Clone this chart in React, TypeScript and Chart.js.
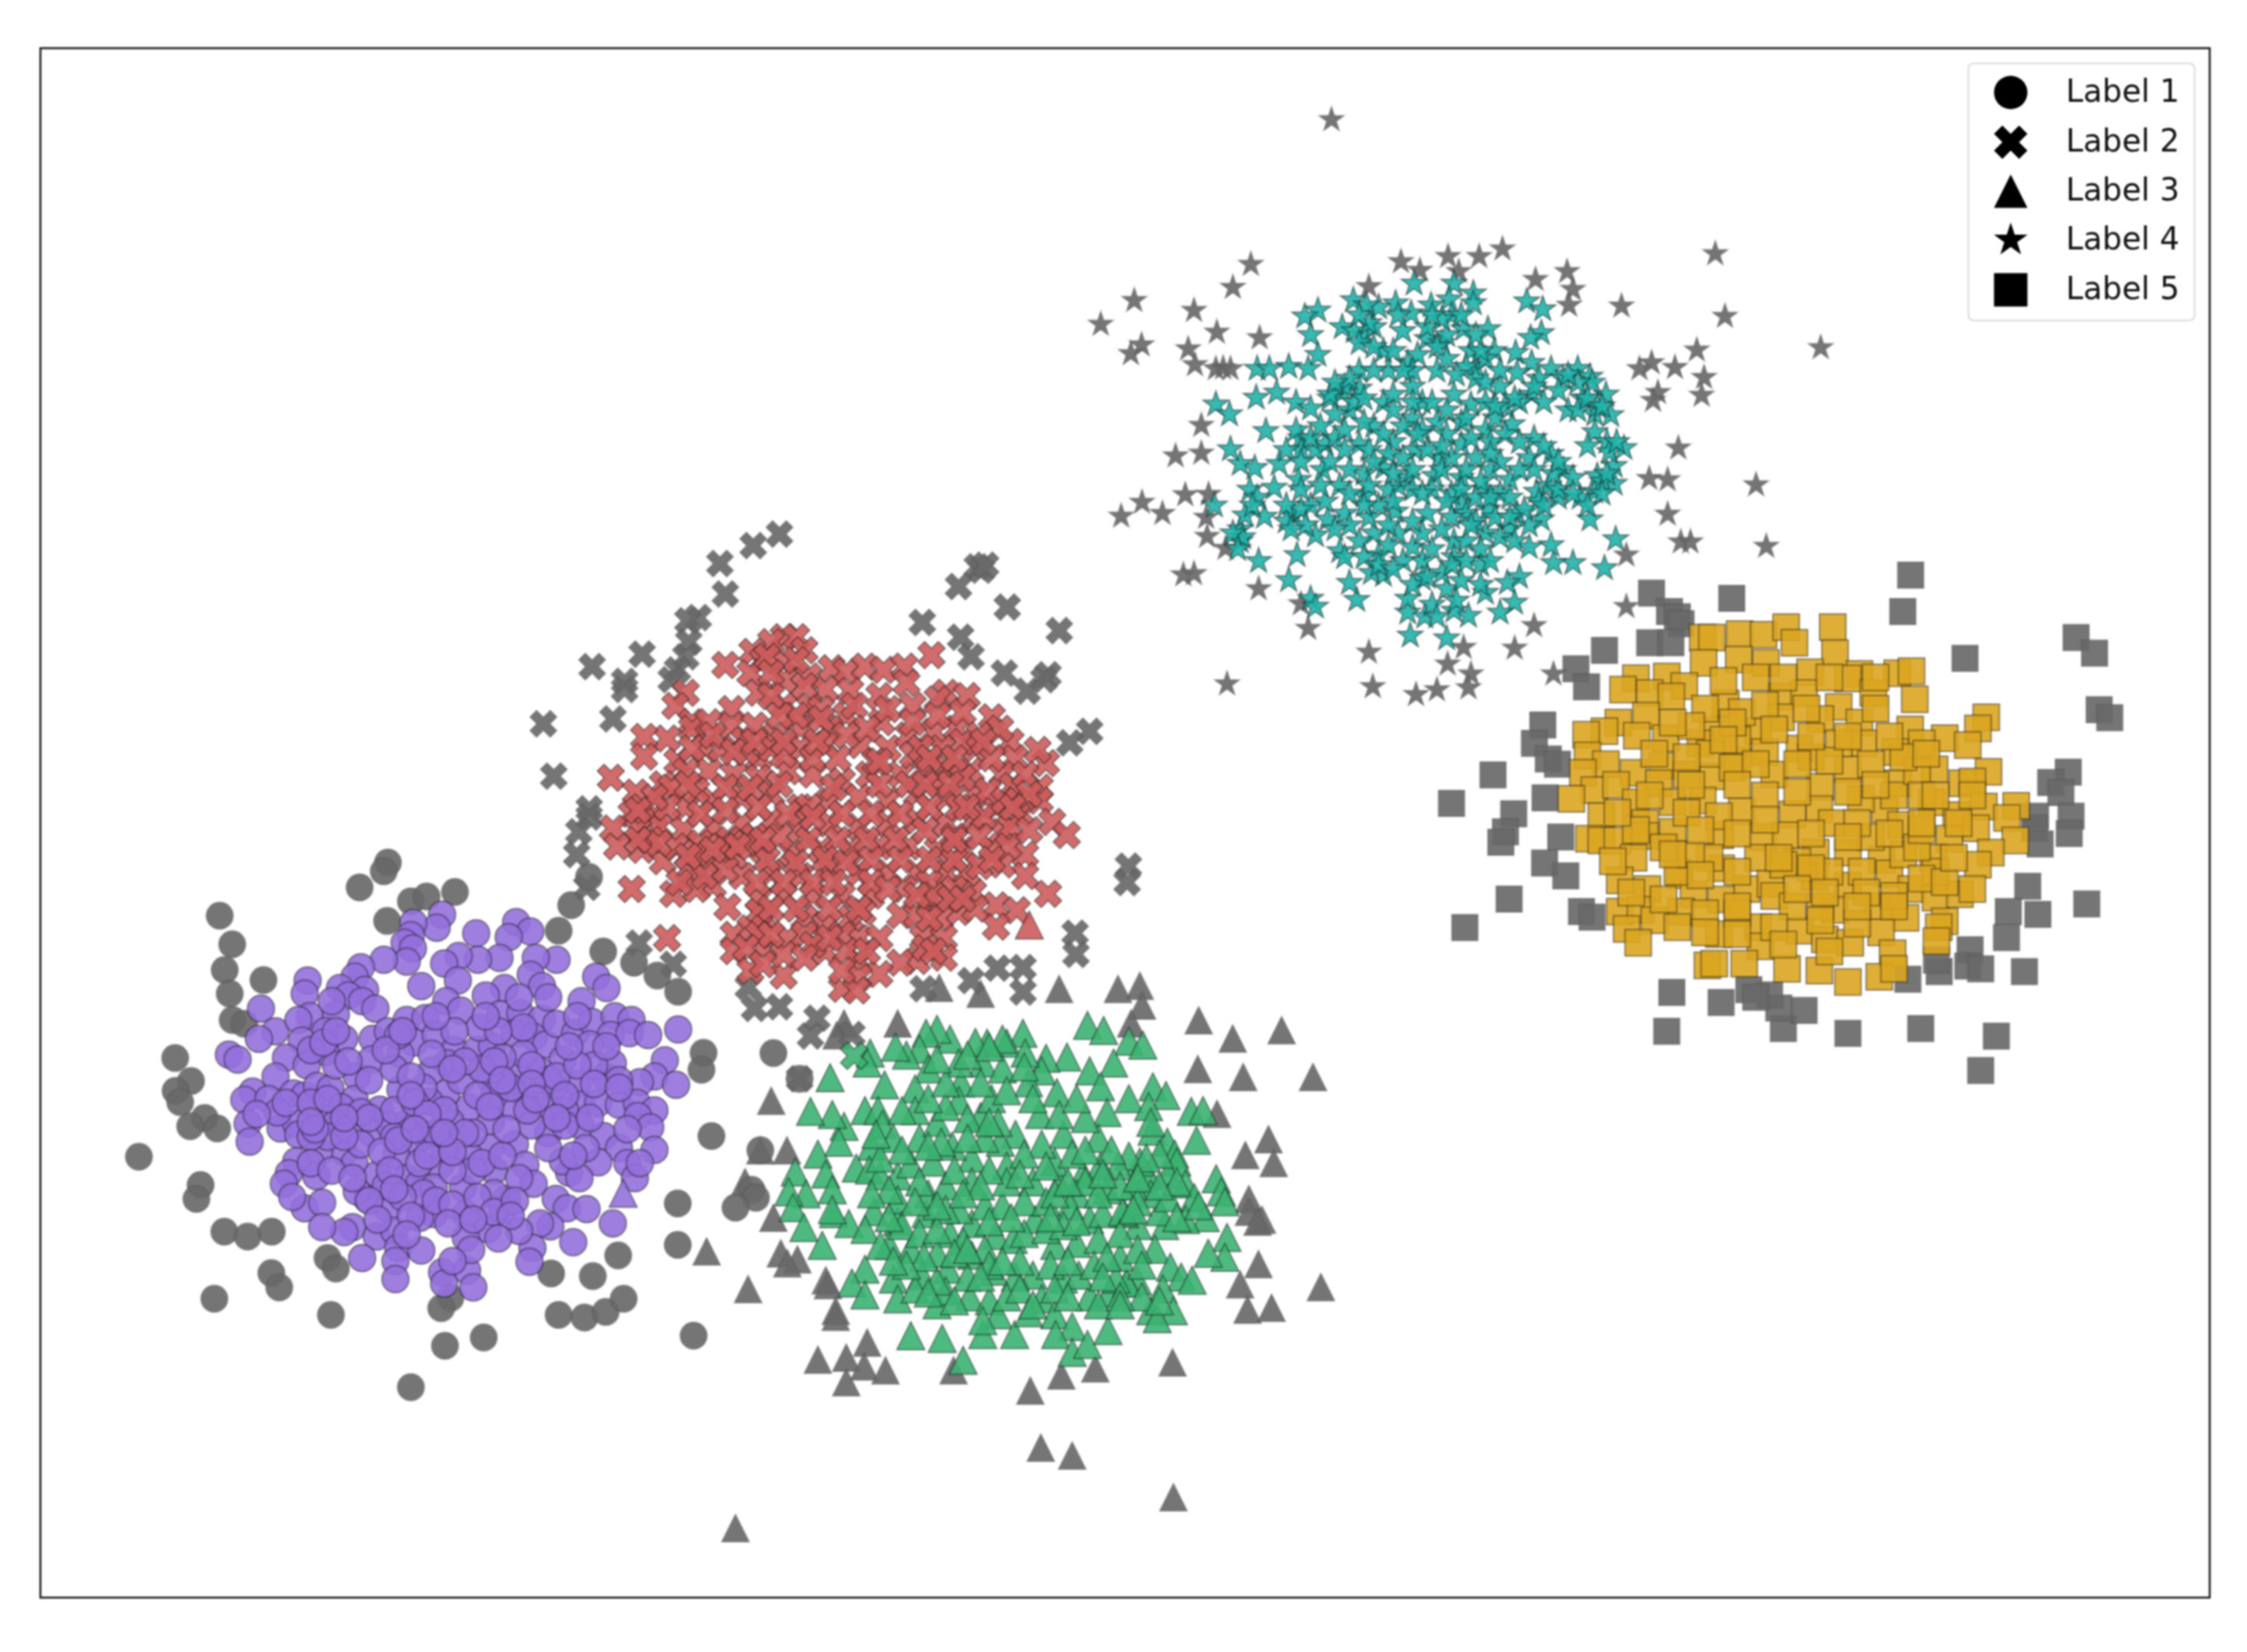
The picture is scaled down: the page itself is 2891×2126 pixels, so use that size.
import React, { useEffect, useRef } from "react";
import { Chart, registerables } from "chart.js";

Chart.register(...registerables);

type Pair = [number, number];

// Axis limits of the plot, in the reference's own coordinate units.
const xLimits = [52, 2843];
const yLimits = [62, 2056];
const seriesNames = ["Label 1", "Label 2", "Label 3", "Label 4", "Label 5"];

// Readings are grouped by the region they were read from; each region spans 0..1568 in both directions.
const regionCircles = { x: 100, y: 1080, w: 840, h: 760 };
const regionCrosses = { x: 660, y: 660, w: 840, h: 660 };
const regionTriangles = { x: 880, y: 1220, w: 880, h: 800 };
const regionStars = { x: 1380, y: 120, w: 980, h: 800 };
const regionSquares = { x: 1820, y: 720, w: 930, h: 700 };

const circleOutliers: Pair[] = [[745,62],[735,85],[677,128],[800,165],[838,152],[906,140],[743,217],[341,203],[371,279],[353,347],[365,410],[446,374],[372,480],[400,490],[234,581],[272,642],[235,668],[246,698],[305,740],[270,762],[335,768],[147,843],[295,918],[285,955],[352,1042],[408,1055],[466,1042],[600,1112],[620,1140],[465,1152],[484,1190],[328,1220],[608,1263],[895,1218],[873,1245],[882,1345],[975,1323],[800,1455],[1137,1153],[1237,1160],[1298,1105],[1155,1263],[1217,1270],[1268,1255],[1311,1220],[1479,1318],[1441,1077],[1441,967],[1522,788],[1503,567],[1498,612],[1155,243],[1262,298],[1336,328],[1392,362],[1442,405],[1185,175],[1228,100]];
const circleOutliersEast: Pair[] = [[205,265],[175,510],[155,610],[165,630],[118,655],[265,330]];
const circleCluster: Pair[] = [[875,200],[862,235],[806,222],[800,255],[785,275],[805,290],[790,325],[735,320],[957,250],[1053,220],[1087,245],[1035,260],[1150,320],[1100,315],[1013,315],[961,320],[915,310],[880,330],[913,375],[825,390],[1088,360],[1115,390],[1025,395],[980,415],[1245,365],[1270,395],[1210,430],[885,430],[920,455],[552,375],[545,410],[680,340],[665,365],[630,395],[690,400],[650,415],[683,430],[715,450],[440,450],[475,510],[435,530],[558,470],[530,480],[620,465],[595,510],[640,530],[538,535],[595,565],[500,580],[363,572],[384,585],[550,600],[475,630],[420,670],[400,692],[458,690],[518,675],[545,680],[575,655],[607,662],[670,630],[708,530],[705,585],[745,510],[790,480],[835,475],[808,540],[775,570],[860,520],[905,560],[887,595],[850,615],[958,560],[995,550],[965,500],[1015,465],[1063,462],[1115,477],[1050,515],[1095,525],[1125,545],[1150,490],[1195,515],[1235,485],[1290,470],[1330,480],[1280,520],[1325,515],[1370,520],[1442,505],[1230,545],[1165,585],[1110,615],[1050,620],[988,635],[1410,587],[1385,630],[1437,652],[1350,645],[1267,630],[1285,595],[1200,650],[1145,657],[1075,680],[1045,710],[1000,680],[940,712],[885,675],[845,697],[775,665],[725,718],[665,690],[633,712],[590,740],[620,755],[408,755],[487,768],[525,755],[413,803],[530,785],[705,780],[750,760],[795,750],[835,787],[810,805],[895,750],[993,748],[1128,718],[1210,705],[1250,700],[1300,705],[1343,700],[1385,720],[1345,735],[1375,765],[1207,760],[1130,780],[1263,788],[1300,820],[1385,825],[1050,810],[990,820],[940,840],[870,865],[765,840],[640,830],[665,860],[580,830],[525,855],[507,887],[495,915],[573,895],[720,890],[790,900],[820,915],[925,925],[855,925],[1030,955],[1075,865],[1095,915],[1180,885],[1165,855],[1250,858],[1320,860],[1338,900],[1205,900],[1148,955],[1175,980],[1222,982],[1285,1020],[1135,1028],[1110,1020],[1190,1070],[1092,1085],[1085,1122],[985,1035],[1060,1040],[1020,985],[932,995],[855,995],[822,1005],[695,955],[670,935],[745,980],[545,980],[587,965],[515,950],[660,1030],[640,1043],[587,1030],[718,1055],[760,1040],[770,1085],[825,1092],[683,1112],[763,1120],[763,1168],[875,1150],[935,1145],[932,1058],[950,1190],[945,1090],[880,1180],[900,1120],[600,790],[560,790],[480,725],[430,730],[650,770],[760,790],[950,780],[1090,760],[1170,720],[1240,600],[1130,640],[1070,570],[1020,580],[830,660],[920,640],[970,610],[680,810],[730,830],[880,820],[1000,880],[950,880],[1060,900],[820,860],[900,880],[830,940],[1000,940],[740,920],[780,950]];
const circleClusterInner: Pair[] = [[560,560],[620,600],[650,590],[700,640],[760,610],[800,630],[930,590],[1000,590],[1090,600],[1150,630],[1200,600],[1300,640],[1180,550],[1070,500],[1010,510],[905,510],[850,570],[770,520],[740,560],[500,700],[560,700],[680,725],[760,720],[810,700],[880,720],[960,680],[1040,660],[1090,650],[1170,680],[1240,650],[1300,660],[570,770],[640,790],[700,740],[770,800],[860,780],[930,780],[990,710],[1080,720],[1170,760],[1230,740],[1320,770],[560,860],[610,880],[660,900],[750,880],[840,840],[900,830],[970,860],[1020,840],[1130,820],[1220,820],[1350,860],[1190,840],[700,960],[760,930],[860,960],[900,970],[960,950],[1000,990],[1050,960],[800,1000],[720,1010],[890,1020],[1040,1000],[950,1010],[790,1050],[1010,1060],[840,730],[800,680],[900,610],[1020,640],[1100,690],[1150,740],[810,770],[880,780],[1030,770],[600,690],[640,740],[560,750],[1270,550],[1200,470],[1130,420],[1060,420],[980,470],[860,470],[780,510],[590,540],[610,430],[620,510]];
const strayTriangleInCircles: Pair[] = [[1310,940]];

const crossOutliers: Pair[] = [[640,65],[577,100],[497,155],[510,248],[445,320],[420,330],[422,395],[415,440],[395,480],[380,510],[310,432],[190,470],[268,515],[268,540],[240,630],[73,645],[98,805],[183,905],[183,930],[158,975],[153,1045],[177,1145],[1115,165],[1125,175],[1135,160],[1070,225],[1187,288],[983,335],[1075,380],[1100,440],[1312,360],[1180,490],[1235,545],[1285,495],[1275,510],[1385,668],[1337,703],[1478,1080],[1475,1130],[303,1315],[385,1380],[1350,1285],[1352,1350],[1163,1392],[1225,1390],[1225,1465],[1100,1430],[580,1515],[640,1510],[565,1450],[985,1455],[730,1545]];
const crossOutliersSouth: Pair[] = [[290,222],[385,218],[265,330]];
const crossCluster: Pair[] = [[650,380],[620,395],[680,380],[700,420],[575,425],[510,465],[600,450],[650,455],[570,490],[650,510],[590,550],[710,500],[765,475],[800,485],[845,470],[890,480],[940,470],[1005,435],[945,520],[880,560],[750,540],[810,545],[710,590],[650,590],[525,600],[415,550],[390,590],[430,640],[1040,550],[1090,560],[1020,570],[960,590],[1150,625],[1065,660],[1010,670],[885,640],[800,620],[760,660],[690,660],[630,680],[525,650],[555,695],[430,660],[370,690],[315,685],[315,745],[395,760],[460,720],[590,750],[690,720],[750,710],[835,710],[900,720],[950,680],[1110,720],[1195,700],[1205,750],[1280,765],[1260,725],[1100,790],[1040,780],[990,790],[930,800],[855,800],[790,820],[720,800],[660,790],[590,810],[530,800],[470,790],[415,790],[235,810],[295,855],[360,830],[1175,800],[1265,840],[1265,880],[1200,835],[285,920],[240,965],[340,925],[415,900],[480,880],[550,870],[620,860],[690,900],[760,880],[830,870],[900,880],[970,860],[1040,870],[1110,860],[1160,900],[1220,920],[1295,945],[1330,985],[1175,975],[1105,940],[1040,950],[970,940],[900,950],[830,960],[760,950],[690,970],[620,940],[550,950],[480,960],[410,970],[350,960],[300,970],[250,1020],[310,1030],[360,1065],[420,1090],[470,1070],[530,1050],[600,1030],[670,1040],[740,1030],[810,1030],[880,1020],[950,1020],[1020,1030],[1080,1030],[1150,1030],[1230,1045],[1230,1110],[1175,1075],[1285,1165],[1105,1160],[1040,1100],[970,1100],[900,1100],[830,1100],[760,1090],[690,1110],[620,1100],[550,1110],[480,1140],[440,1150],[385,1165],[285,1150],[515,1205],[590,1180],[650,1170],[720,1170],[790,1170],[860,1170],[930,1230],[1000,1180],[1070,1220],[1160,1200],[1210,1215],[1160,1265],[1025,1240],[530,1290],[530,1340],[605,1240],[600,1330],[660,1300],[750,1260],[810,1240],[750,1340],[830,1300],[880,1300],[985,1300],[1035,1300],[1035,1360],[970,1370],[930,1375],[830,1370],[880,1410],[830,1420],[790,1455],[825,1460],[570,1400],[650,1415],[370,1300],[700,1240],[450,1010],[520,1000],[580,990],[640,990],[710,1000],[780,1000],[850,1000],[920,1000],[990,970],[1060,990],[1090,1100],[1000,1130],[1110,1210]];
const crossClusterInner: Pair[] = [[430,720],[500,720],[560,730],[620,720],[650,740],[720,750],[780,750],[870,760],[960,740],[1030,720],[1080,700],[1150,750],[1230,800],[380,840],[440,850],[510,840],[570,840],[640,830],[710,900],[770,840],[880,830],[950,830],[1020,820],[1080,810],[1140,850],[1210,880],[310,900],[370,900],[450,920],[510,910],[590,900],[660,920],[720,930],[790,920],[860,920],[930,920],[1000,900],[1070,900],[1130,930],[1195,960],[330,1000],[390,1020],[440,1040],[500,1020],[560,1010],[610,1060],[680,1070],[750,1060],[800,1070],[860,1060],[930,1060],[1000,1060],[1060,1060],[1120,1080],[1190,1020],[400,1130],[460,1110],[510,1090],[585,1130],[650,1130],[720,1130],[770,1130],[860,1130],[940,1150],[1010,1170],[1060,1150],[590,1220],[620,1210],[680,1210],[760,1210],[840,1220],[970,1230],[570,1270],[590,1290],[700,1290],[790,1290],[650,1350],[720,1320],[800,1340],[610,440],[680,450],[620,490],[700,530],[620,560],[680,620],[740,600],[820,590],[900,600],[960,640],[1020,620],[1080,610],[1120,680],[1170,660],[470,640],[580,650],[480,680],[530,730],[640,620],[740,630],[850,660],[980,720],[880,760],[1000,750],[1060,750],[1130,700],[1050,830],[990,830],[730,700],[800,680],[650,700],[580,700],[420,830],[340,870],[300,910],[350,1010],[300,1000],[420,1050],[480,1030],[540,1020],[600,1000],[1060,1000],[1120,990],[1090,900],[1180,880],[1240,860],[1200,900],[1240,970],[1150,1060],[1000,1240],[1050,1180],[1080,1180],[900,1150],[970,1170],[830,1210],[760,1300],[990,1330],[1010,1340],[850,1340],[790,1400],[700,1360],[620,1290],[560,1330],[600,1380]];
const strayTriangleInCrosses: Pair[] = [[1240,1260]];

const triangleOutliers: Pair[] = [[1045,95],[995,103],[1050,145],[860,103],[680,115],[585,100],[490,190],[1180,182],[1258,228],[1370,207],[1025,190],[1178,305],[1282,325],[1442,325],[1222,418],[1340,482],[1287,522],[1352,542],[1295,633],[1325,685],[1295,665],[1315,690],[367,190],[350,220],[200,385],[175,510],[236,510],[140,590],[205,680],[52,765],[222,770],[260,785],[237,795],[147,860],[325,838],[330,850],[348,915],[348,930],[1317,797],[1275,848],[1460,855],[1292,912],[1347,907],[420,995],[307,1038],[372,1033],[413,1055],[462,1065],[372,1095],[618,1065],[865,1078],[943,1060],[1120,1045],[794,1116],[818,1260],[890,1280],[1122,1385],[118,1463]];
const triangleCluster: Pair[] = [[925,195],[962,208],[1020,235],[1052,245],[985,290],[878,275],[830,278],[820,310],[777,215],[740,240],[730,230],[695,240],[668,238],[610,230],[580,205],[555,215],[540,255],[510,270],[485,250],[427,265],[420,290],[560,305],[685,290],[730,305],[782,265],[930,310],[955,350],[1020,380],[1075,350],[1105,372],[1065,400],[1163,412],[1190,410],[1073,462],[1175,485],[1108,490],[1125,520],[1130,540],[1220,582],[1232,615],[1150,595],[1170,630],[1195,680],[1150,685],[1102,700],[1090,665],[1245,730],[1240,780],[1202,770],[1080,760],[1115,805],[1140,830],[1165,838],[1098,860],[1122,915],[1070,915],[1085,935],[1040,840],[1015,845],[1040,700],[1010,670],[1065,575],[1045,540],[1020,525],[995,550],[955,550],[915,570],[860,595],[900,620],[970,415],[950,480],[920,430],[870,470],[855,365],[790,340],[815,420],[760,470],[725,490],[680,425],[705,380],[635,340],[630,385],[530,355],[530,410],[460,345],[415,410],[445,410],[455,445],[367,450],[340,420],[290,412],[335,327],[307,520],[355,490],[430,500],[395,555],[425,560],[450,575],[490,575],[520,545],[540,480],[570,540],[660,530],[740,550],[850,540],[255,565],[325,570],[340,610],[280,620],[240,615],[250,655],[343,670],[378,695],[435,665],[415,710],[490,690],[275,705],[317,750],[470,750],[450,750],[520,760],[555,670],[610,720],[660,695],[715,725],[755,735],[805,685],[850,750],[885,650],[930,685],[960,670],[1005,665],[900,745],[950,735],[800,825],[870,835],[760,830],[710,815],[660,775],[605,810],[545,825],[480,835],[415,810],[385,845],[415,875],[490,885],[580,900],[600,865],[655,880],[700,890],[720,925],[820,885],[930,880],[975,870],[1015,845],[905,825],[850,925],[890,955],[852,975],[758,975],[685,975],[685,940],[520,978],[592,985],[640,1040],[890,1020],[925,1000],[972,965],[490,635],[560,620],[630,660],[690,650],[730,650],[580,770],[660,590],[740,590],[800,590],[615,500],[690,480],[820,495],[1070,620],[970,610],[1030,600],[500,700],[600,600],[720,440],[580,440],[1000,780],[940,800],[990,835],[840,800],[650,830],[580,840],[530,860],[1050,880]];
const triangleClusterInner: Pair[] = [[630,290],[680,340],[740,360],[800,380],[860,420],[900,380],[650,430],[600,400],[560,380],[500,410],[480,480],[500,510],[590,490],[650,480],[780,520],[890,520],[920,510],[980,510],[1000,600],[920,590],[700,560],[620,560],[540,590],[470,610],[430,620],[600,660],[780,640],[830,640],[850,620],[950,620],[1040,640],[1110,570],[1110,630],[1130,680],[540,720],[580,710],[640,740],[690,760],[780,720],[830,710],[870,700],[1000,720],[1040,760],[970,780],[880,790],[550,780],[620,770],[700,800],[770,790],[510,800],[560,870],[620,890],[680,830],[740,880],[770,860],[850,860],[880,880],[960,830],[1050,800],[790,920],[800,900],[950,900],[1000,880],[1000,900],[1090,890],[1030,660],[750,680],[700,690],[680,600],[640,620],[580,650],[530,640],[470,680],[1130,590],[1180,650],[1240,640],[1070,440],[1090,520],[1060,530],[1040,580],[1090,600],[960,570],[880,590],[830,550],[770,570],[560,500],[450,530],[440,470],[340,660],[900,690],[840,680],[650,760],[730,790],[480,790],[700,440],[600,340],[580,280],[650,270],[780,300],[700,250]];
const strayCrossInTriangles: Pair[] = [[390,272]];

const starOutliers: Pair[] = [[533,67],[367,432],[330,490],[127,523],[58,583],[250,548],[297,603],[142,635],[120,657],[238,645],[252,685],[295,695],[310,693],[325,695],[385,617],[676,425],[715,447],[773,412],[837,412],[885,393],[795,450],[610,488],[953,470],[1018,450],[1030,495],[1022,535],[1130,537],[1323,405],[1343,563],[1540,642],[1285,648],[1167,695],[1192,680],[1240,692],[1300,717],[1295,762],[1205,755],[1195,775],[265,838],[212,915],[265,908],[1247,895],[1187,972],[1225,975],[1407,988],[1225,1062],[232,1013],[280,1012],[143,1032],[185,1060],[100,1067],[275,1070],[277,1118],[315,1148],[1252,1132],[1272,1132],[1428,1143],[1140,1165],[228,1215],[250,1212],[383,1250],[470,1288],[485,1350],[950,1343],[1140,1295],[610,1410],[805,1398],[910,1400],[772,1440],[990,1465],[820,1465],[618,1497],[750,1505],[815,1500],[707,1517],[318,1490]];
const starCluster: Pair[] = [[505,548],[478,563],[490,610],[505,660],[445,690],[485,695],[380,695],[405,695],[378,768],[420,755],[460,780],[490,795],[295,785],[323,810],[398,852],[578,522],[630,540],[605,535],[665,530],[703,480],[785,480],[825,505],[825,530],[775,520],[738,535],[697,555],[555,590],[600,610],[620,590],[680,600],[640,650],[730,620],[760,630],[805,595],[855,595],[935,525],[968,545],[965,605],[943,617],[912,655],[868,650],[945,680],[985,695],[1040,695],[1065,715],[1098,760],[1050,770],[1020,800],[1075,810],[1108,812],[1075,855],[1100,880],[1135,895],[1115,940],[1080,965],[1115,985],[1075,1005],[1045,1020],[985,910],[1010,950],[955,1005],[1000,1020],[965,1075],[1065,1075],[1118,1125],[1095,1198],[1030,1185],[990,1185],[985,1140],[940,1145],[920,1220],[895,1235],[910,1285],[880,1310],[850,1260],[840,1190],[815,1318],[785,1305],[770,1375],[695,1368],[725,1320],[690,1310],[690,1275],[740,1290],[770,1250],[720,1225],[640,1215],[615,1210],[585,1278],[570,1235],[490,1275],[500,1295],[445,1228],[462,1165],[383,1180],[345,1130],[345,1100],[355,1065],[395,1068],[292,1040],[365,1000],[415,995],[465,975],[425,935],[375,945],[345,935],[325,898],[455,1065],[490,1040],[525,1075],[500,1115],[550,1155],[560,1170],[620,1110],[670,1110],[630,1165],[700,1145],[785,1130],[785,1170],[720,1180],[850,1110],[900,1100],[940,1090],[915,1060],[855,1050],[800,1035],[730,1060],[665,1055],[600,1015],[550,990],[515,950],[470,870],[520,885],[540,870],[590,885],[640,945],[690,970],[745,965],[800,970],[850,1000],[900,975],[940,920],[950,870],[905,835],[850,850],[800,885],[755,920],[705,900],[660,880],[620,840],[700,820],[750,830],[570,800],[555,755],[590,745],[650,700],[700,740],[750,700],[830,690],[880,740],[915,705],[945,760],[890,790],[820,785],[785,760],[830,920],[780,1010],[700,1000],[630,1040],[560,1060],[440,1080],[860,950],[740,1000],[980,990],[810,1060],[880,1010],[1000,1000],[1070,730],[1010,720],[960,720],[1040,730],[1040,800],[1090,980],[1105,905],[470,900],[800,830],[590,700],[640,780],[720,780],[600,960],[670,990],[820,650]];
const starClusterInner: Pair[] = [[580,600],[610,580],[590,630],[730,590],[770,610],[750,640],[810,690],[850,670],[830,720],[790,710],[690,680],[660,650],[560,740],[530,770],[580,780],[540,810],[600,770],[660,800],[680,840],[720,850],[770,800],[810,820],[850,780],[870,820],[890,860],[860,880],[820,870],[770,860],[730,900],[680,920],[650,910],[610,900],[560,900],[500,900],[460,850],[490,870],[440,900],[470,930],[530,930],[570,950],[610,990],[650,1000],[700,950],[760,950],[780,920],[810,950],[840,980],[800,1000],[770,1030],[830,1020],[860,1020],[900,1020],[870,1070],[830,1080],[780,1070],[760,1100],[720,1110],[700,1080],[650,1090],[610,1070],[570,1090],[540,1100],[470,1050],[480,1090],[450,1100],[590,1130],[600,1170],[650,1140],[680,1180],[740,1150],[810,1130],[840,1150],[880,1120],[910,1130],[760,1210],[800,1230],[840,1240],[700,1240],[630,1190],[930,1050],[960,1030],[990,960],[1030,970],[950,950],[920,950],[880,930],[860,910],[920,880],[970,890],[1000,930],[1030,1010],[970,1040],[1060,1040],[1100,960],[1090,1010],[1120,880],[1060,890],[1080,790],[1060,770],[1090,790],[1020,710],[1000,750],[950,740],[970,780],[920,780],[870,790],[850,730],[880,700],[840,650],[770,670],[710,660],[700,700],[620,700],[570,720],[530,760],[540,730],[660,760],[700,780],[740,780],[600,830],[560,850],[510,840],[640,860],[710,860],[760,890],[620,930],[660,960],[720,1010],[660,1030],[600,1040],[520,1030],[440,1040],[470,1000],[510,990],[570,1010],[380,1020],[370,1040],[350,1120],[330,1110],[340,1150],[780,560],[760,570],[590,560],[670,560],[800,560],[830,610],[740,560],[620,640],[680,700],[910,770],[820,1090],[900,1070],[780,1190],[860,1180],[810,1180],[660,1200],[730,1220],[790,1280],[750,1320]];

const squareOutliers: Pair[] = [[1076,45],[1059,150],[514,97],[553,150],[570,165],[578,185],[688,112],[510,240],[556,240],[412,262],[350,315],[373,367],[278,477],[260,530],[290,575],[310,590],[170,621],[283,687],[80,703],[215,733],[197,785],[187,815],[317,800],[282,875],[328,912],[205,979],[362,1015],[385,1031],[109,1061],[1194,285],[1435,225],[1475,270],[1485,433],[1508,456],[1418,613],[1380,643],[1402,672],[1424,740],[1347,740],[1345,775],[1420,790],[1357,820],[1330,942],[1288,1015],[1352,1023],[1458,993],[1284,1090],[1205,1125],[1200,1172],[1228,1180],[1138,1188],[1132,1155],[1323,1188],[1070,1210],[1228,1473],[1262,1374],[1098,1352],[940,1366],[800,1352],[845,1300],[790,1293],[770,1255],[725,1240],[740,1262],[665,1277],[558,1248],[547,1360]];
const squareCluster: Pair[] = [[625,225],[645,225],[705,215],[757,217],[806,195],[824,240],[907,195],[912,270],[627,298],[703,288],[762,298],[858,325],[965,330],[940,343],[1047,328],[1078,322],[1085,403],[995,385],[480,342],[547,337],[452,375],[585,365],[510,385],[557,395],[675,415],[795,395],[845,385],[920,425],[1240,455],[1222,487],[1075,490],[1150,515],[1100,530],[1200,535],[965,470],[880,460],[795,455],[745,495],[648,493],[710,440],[502,450],[442,470],[412,495],[372,505],[482,508],[545,515],[620,530],[760,555],[835,545],[975,530],[1043,555],[1128,605],[1245,612],[1188,645],[1210,640],[375,565],[415,590],[475,615],[537,595],[530,645],[645,625],[780,620],[880,655],[940,605],[1048,645],[1020,720],[365,615],[390,665],[340,690],[437,650],[480,700],[625,695],[710,725],[820,735],[878,720],[968,690],[1122,700],[1175,737],[1235,712],[1305,710],[1285,745],[405,740],[500,760],[560,785],[663,795],[755,800],[805,795],[905,760],[1055,765],[1160,805],[1218,775],[1303,810],[378,805],[405,810],[440,810],[500,797],[1250,845],[1222,880],[1125,860],[1013,865],[940,845],[870,845],[745,860],[665,890],[640,860],[475,860],[575,910],[445,925],[505,950],[720,950],[772,935],[868,915],[1030,905],[1078,950],[1130,975],[1183,965],[1210,950],[1130,900],[940,940],[665,980],[605,965],[445,1015],[490,1010],[578,1015],[630,1020],[780,970],[912,1010],[1005,1000],[1065,1033],[1150,1043],[1137,1060],[1132,1100],[520,1040],[460,1065],[485,1105],[660,1080],[630,1075],[745,1060],[835,1070],[890,1095],[945,1105],[1012,1075],[1037,1135],[750,1115],[635,1170],[650,1165],[715,1165],[808,1180],[878,1185],[940,1218],[1008,1203],[1040,1180],[820,1000],[700,1020],[900,900],[830,870],[990,800],[860,570],[700,580],[590,620],[560,700],[570,900],[1060,850],[1090,830],[1040,680],[920,530],[700,520],[540,830],[600,850],[800,880],[880,1000],[960,1050]];
const squareClusterInner: Pair[] = [[670,350],[740,340],[800,340],[900,340],[1000,340],[630,430],[690,470],[760,420],[850,430],[1000,430],[600,480],[560,470],[640,560],[690,600],[740,590],[830,590],[900,580],[990,590],[1090,610],[1100,680],[1000,650],[940,670],[830,670],[760,680],[700,650],[600,650],[590,730],[660,740],[760,750],[860,790],[960,760],[1030,790],[1100,780],[1180,760],[1100,760],[480,780],[430,870],[560,850],[620,910],[700,900],[790,860],[860,890],[970,900],[1100,920],[1040,970],[980,960],[890,960],[830,950],[700,1000],[540,980],[470,960],[570,1060],[700,1080],[780,1060],[880,1040],[960,1000],[1040,1000],[800,1110],[900,1130],[1150,930],[1170,860],[1210,680],[1130,680],[1060,570],[1110,560],[700,790],[620,780],[940,800],[510,680],[440,730],[520,560],[780,490],[860,510],[940,510],[1030,510],[670,520],[590,570]];

const PURPLE = "rgba(147,112,219,0.9)";
const RED = "rgba(205,92,92,0.9)";
const GREEN = "rgba(60,179,113,0.9)";
const TEAL = "rgba(32,178,170,0.9)";
const GOLD = "rgba(218,165,32,0.9)";
const GRAY = "rgba(105,105,105,0.92)";
const EDGE = "rgba(20,20,20,0.55)";
const GRAY_EDGE = "rgba(60,60,60,0.25)";

type Shape = "circle" | "cross" | "triangle" | "star" | "square";

function tracePath(ctx: CanvasRenderingContext2D, shape: Shape, cx: number, cy: number, size: number) {
  const h = size / 2;
  ctx.beginPath();
  if (shape === "circle") {
    ctx.arc(cx, cy, h, 0, Math.PI * 2);
  } else if (shape === "square") {
    ctx.rect(cx - h, cy - h, size, size);
  } else if (shape === "triangle") {
    ctx.moveTo(cx, cy - h);
    ctx.lineTo(cx + h, cy + h);
    ctx.lineTo(cx - h, cy + h);
    ctx.closePath();
  } else if (shape === "cross") {
    const v: Pair[] = [[0.25,0],[0.5,0.25],[0.75,0],[1,0.25],[0.75,0.5],[1,0.75],[0.75,1],[0.5,0.75],[0.25,1],[0,0.75],[0.25,0.5],[0,0.25]];
    v.forEach(([a, b], i) => {
      const px = cx - h + a * size;
      const py = cy - h + b * size;
      if (i === 0) ctx.moveTo(px, py);
      else ctx.lineTo(px, py);
    });
    ctx.closePath();
  } else {
    const outer = h * 1.06;
    const inner = outer * 0.382;
    for (let i = 0; i < 10; i++) {
      const r = i % 2 === 0 ? outer : inner;
      const t = -Math.PI / 2 + (i * Math.PI) / 5;
      const px = cx + r * Math.cos(t);
      const py = cy + r * Math.sin(t);
      if (i === 0) ctx.moveTo(px, py);
      else ctx.lineTo(px, py);
    }
    ctx.closePath();
  }
}

const markerSize: Record<Shape, number> = { circle: 35, cross: 35, triangle: 36, star: 33, square: 34 };

function sprite(shape: Shape, fill: string, edge: string) {
  const canvas = document.createElement("canvas");
  canvas.width = 46;
  canvas.height = 46;
  const ctx = canvas.getContext("2d")!;
  tracePath(ctx, shape, 23, 23, markerSize[shape]);
  ctx.fillStyle = fill;
  ctx.fill();
  ctx.strokeStyle = edge;
  ctx.lineWidth = 1.5;
  ctx.stroke();
  return canvas;
}

const place = (pts: Pair[], r: { x: number; y: number; w: number; h: number }) =>
  pts.map(([a, b]) => ({ x: r.x + (a * r.w) / 1568, y: r.y + (b * r.h) / 1568 }));

function series(name: string, data: { x: number; y: number }[], shape: Shape, fill: string, edge = EDGE) {
  return { label: name, data, pointStyle: sprite(shape, fill, edge), pointRadius: 17, showLine: false };
}

const framePlugin = {
  id: "frameAndKey",
  afterDraw(chart: any) {
    const { ctx, chartArea: a } = chart;
    ctx.save();
    ctx.strokeStyle = "#1a1a1a";
    ctx.lineWidth = 2.5;
    ctx.strokeRect(a.left, a.top, a.right - a.left, a.bottom - a.top);

    ctx.beginPath();
    ctx.roundRect(2532.5, 81.5, 291, 331, 7);
    ctx.fillStyle = "rgba(255,255,255,0.8)";
    ctx.fill();
    ctx.strokeStyle = "#d9d9d9";
    ctx.lineWidth = 2;
    ctx.stroke();

    const shapes: Shape[] = ["circle", "cross", "triangle", "star", "square"];
    const rows = [119, 183, 246, 309, 373];
    ctx.font = '40px "DejaVu Sans"';
    ctx.textBaseline = "middle";
    ctx.textAlign = "left";
    seriesNames.forEach((name, i) => {
      tracePath(ctx, shapes[i], 2587, rows[i], 43);
      ctx.fillStyle = "#000000";
      ctx.fill();
      ctx.fillStyle = "#111111";
      ctx.fillText(name, 2658, rows[i] + 2);
    });
    ctx.restore();
  },
};

export default function App() {
  const ref = useRef<HTMLCanvasElement>(null);
  useEffect(() => {
    if (!ref.current) return;
    const datasets = [
      series("stray triangle", place(strayTriangleInCircles, regionCircles), "triangle", PURPLE),
      series("stray triangle", place(strayTriangleInCrosses, regionCrosses), "triangle", RED),
      series("stray cross", place(strayCrossInTriangles, regionTriangles), "cross", GREEN),
      series(seriesNames[0], place([...circleCluster, ...circleClusterInner], regionCircles), "circle", PURPLE),
      series(seriesNames[1], place([...crossCluster, ...crossClusterInner], regionCrosses), "cross", RED),
      series(seriesNames[2], place([...triangleCluster, ...triangleClusterInner], regionTriangles), "triangle", GREEN),
      series(seriesNames[3], place([...starCluster, ...starClusterInner], regionStars), "star", TEAL),
      series(seriesNames[4], place([...squareCluster, ...squareClusterInner], regionSquares), "square", GOLD),
      series(seriesNames[0], [...place(circleOutliers, regionCircles), ...place(circleOutliersEast, regionTriangles)], "circle", GRAY, GRAY_EDGE),
      series(seriesNames[1], [...place(crossOutliers, regionCrosses), ...place(crossOutliersSouth, regionTriangles)], "cross", GRAY, GRAY_EDGE),
      series(seriesNames[2], place(triangleOutliers, regionTriangles), "triangle", GRAY, GRAY_EDGE),
      series(seriesNames[3], place(starOutliers, regionStars), "star", GRAY, GRAY_EDGE),
      series(seriesNames[4], place(squareOutliers, regionSquares), "square", GRAY, GRAY_EDGE),
    ];
    const chart = new Chart(ref.current, {
      type: "scatter",
      data: { datasets } as any,
      options: {
        animation: false,
        responsive: false,
        events: [],
        layout: { padding: { left: xLimits[0], top: yLimits[0], right: 2891 - xLimits[1], bottom: 2126 - yLimits[1] } },
        scales: {
          x: { display: false, min: xLimits[0], max: xLimits[1] },
          y: { display: false, min: yLimits[0], max: yLimits[1], reverse: true },
        },
        plugins: { legend: { display: false }, tooltip: { enabled: false } },
      },
      plugins: [framePlugin],
    } as any);
    return () => chart.destroy();
  }, []);
  return (
    <canvas
      ref={ref}
      width={2891}
      height={2126}
      style={{ position: "absolute", left: 0, top: 0, width: 2891, height: 2126, background: "#ffffff", filter: "blur(0.9px)" }}
    />
  );
}
